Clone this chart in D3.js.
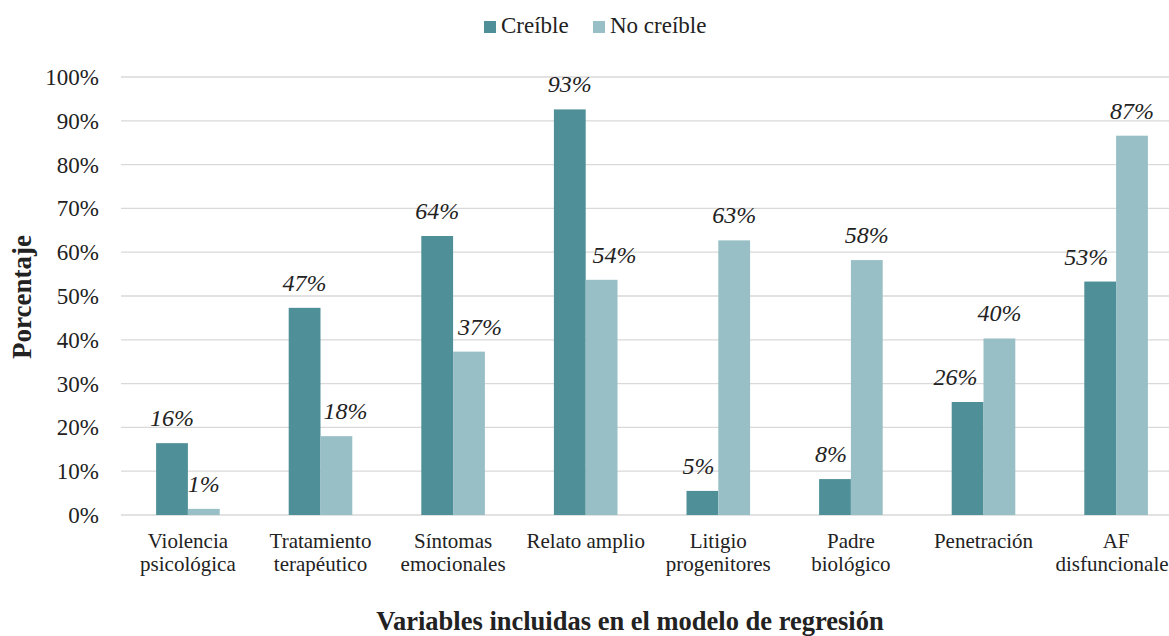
<!DOCTYPE html>
<html><head><meta charset="utf-8">
<script src="https://cdn.jsdelivr.net/npm/d3@7"></script>
<style>body{margin:0;background:#fff}svg{display:block}</style>
</head><body><svg id="c" width="1169" height="636"></svg>
<script>
const categories = [["Violencia","psicológica"],["Tratamiento","terapéutico"],["Síntomas","emocionales"],["Relato amplio"],["Litigio","progenitores"],["Padre","biológico"],["Penetración"],["AF","disfuncionales"]];
const seriesNames = ["Creíble","No creíble"];
const credible = [16.4, 47.3, 63.7, 92.6, 5.5, 8.2, 25.8, 53.3];
const notCredible = [1.4, 18.0, 37.3, 53.7, 62.7, 58.2, 40.3, 86.6];
const labelsCred = ["16%","47%","64%","93%","5%","8%","26%","53%"];
const labelsNot = ["1%","18%","37%","54%","63%","58%","40%","87%"];
const yTicks = [0,10,20,30,40,50,60,70,80,90,100];

// layout / style (not data)
const colors = ["#4f8f98","#98bfc6"];
const labelShift = [[0,0,0,0,-4,-4,-12,-14],[0,9,11,13,0,0,0,0]];

const svg = d3.select("#c");
const font = "Liberation Serif";
const x = d3.scaleBand().domain(d3.range(categories.length)).range([121.6, 1182.4]).paddingInner(0).paddingOuter(0);
const y = d3.scaleLinear().domain([0,100]).range([515, 77]);
const bw = 31.8;

// grid
svg.append("g").selectAll("line").data(yTicks).join("line")
  .attr("x1",121).attr("x2",1169).attr("y1",d=>y(d)).attr("y2",d=>y(d))
  .attr("stroke","#d9d9d9").attr("stroke-width",1.3);

// y tick labels
svg.append("g").selectAll("text").data(yTicks).join("text")
  .attr("x",99).attr("y",d=>y(d)).attr("dy","0.35em").attr("text-anchor","end")
  .style("font-family",font).style("font-size","23px").attr("fill","#222").text(d=>d+"%");

const series = [credible, notCredible];
const lbls = [labelsCred, labelsNot];
series.forEach((vals, s) => {
  const g = svg.append("g");
  g.selectAll("rect").data(vals).join("rect")
    .attr("x",(d,i)=>x(i)+x.bandwidth()/2 - bw + s*bw)
    .attr("width",bw)
    .attr("y",d=>y(d)).attr("height",d=>y(0)-y(d))
    .attr("fill",colors[s]);
  g.selectAll("text").data(vals).join("text")
    .attr("x",(d,i)=>x(i)+x.bandwidth()/2 - bw/2 + s*bw + labelShift[s][i])
    .attr("y",d=>y(d)-17)
    .attr("text-anchor","middle")
    .style("font-family",font).style("font-style","italic").style("font-size","24px").attr("fill","#222")
    .text((d,i)=>lbls[s][i]);
});

// category labels
const cg = svg.append("g");
categories.forEach((c,i)=>{
  const t = cg.append("text").attr("text-anchor","middle").style("font-family",font).style("font-size","21px").attr("fill","#222");
  c.forEach((line,k)=>{
    t.append("tspan").attr("x",x(i)+x.bandwidth()/2).attr("y",548+k*23).text(line);
  });
});

// axis titles
svg.append("text").attr("transform","translate(31,297) rotate(-90)").attr("text-anchor","middle")
  .style("font-family",font).style("font-weight","bold").style("font-size","27px").attr("fill","#222").text("Porcentaje");
svg.append("text").attr("x",630).attr("y",630).attr("text-anchor","middle")
  .style("font-family",font).style("font-weight","bold").style("font-size","26.5px").attr("fill","#222").text("Variables incluidas en el modelo de regresión");

// legend
const leg = svg.append("g");
const legX = [484, 593];
seriesNames.forEach((n,i)=>{
  leg.append("rect").attr("x",legX[i]).attr("y",21).attr("width",12).attr("height",12).attr("fill",colors[i]);
  leg.append("text").attr("x",legX[i]+17).attr("y",33)
    .style("font-family",font).style("font-size","23px").attr("fill","#222").text(n);
});
</script></body></html>
